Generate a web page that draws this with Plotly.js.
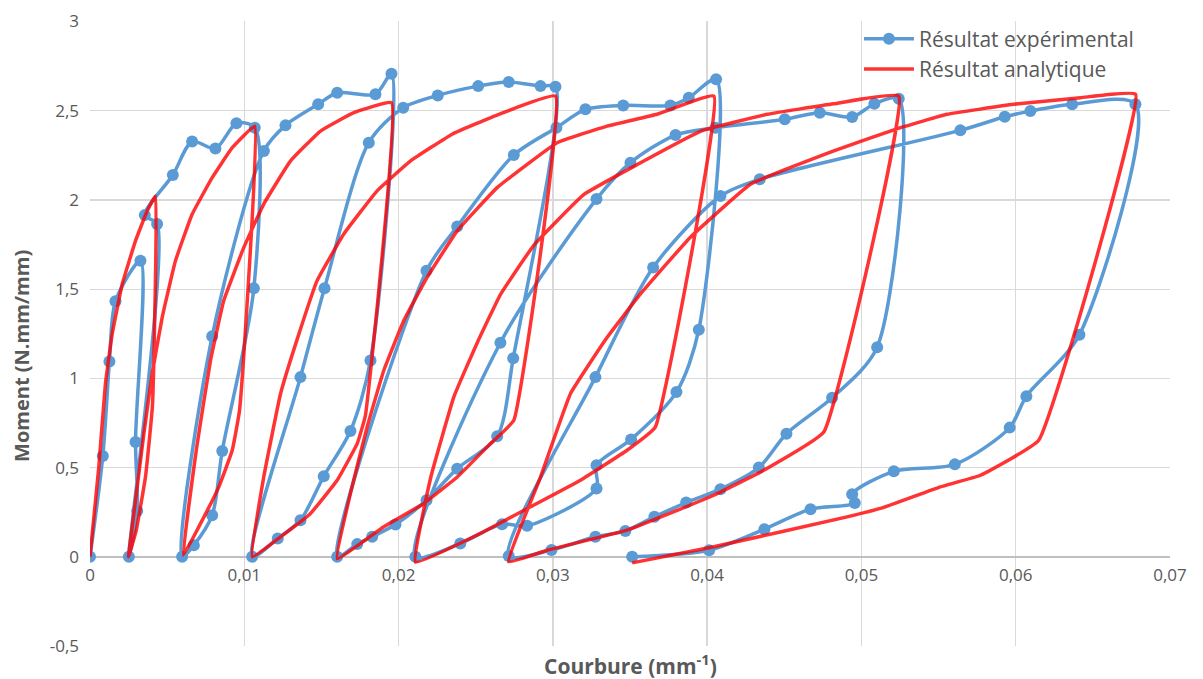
<!DOCTYPE html>
<html>
<head>
<meta charset="utf-8">
<script src="https://cdn.plot.ly/plotly-3.0.1.min.js"></script>
<style>html,body{margin:0;padding:0;background:#fff;}#chart{width:1203px;height:679px;}</style>
</head>
<body>
<div id="chart"></div>
<script>
// Experimental result (curvature mm-1, moment N.mm/mm), in test order
const expX = [
  0, 0.00083, 0.00126, 0.00165, 0.00327, 0.00295, 0.00306, 0.00252,
  0.00435, 0.00355, 0.00537, 0.00662, 0.00813, 0.00949, 0.01068, 0.01062, 0.00857, 0.00792, 0.00673, 0.00597,
  0.00792, 0.01127, 0.01267, 0.01479, 0.01602, 0.0185, 0.01954, 0.01818, 0.01688, 0.01515, 0.01364, 0.01217, 0.01051,
  0.01364, 0.0152, 0.01807, 0.0203, 0.02254, 0.02516, 0.02714, 0.0292, 0.03017, 0.02743, 0.02639, 0.0238, 0.02181, 0.0198, 0.01829, 0.01732, 0.01602,
  0.02181, 0.0238, 0.02747, 0.03023, 0.03211, 0.03456, 0.03762, 0.03881, 0.04058, 0.03946, 0.03801, 0.03507, 0.03283, 0.03283, 0.02833, 0.02671, 0.024, 0.02109,
  0.0266, 0.03283, 0.03503, 0.03795, 0.04054, 0.04503, 0.0473, 0.0494, 0.05084, 0.05242, 0.05102, 0.0481, 0.04514, 0.04335, 0.04086, 0.03864, 0.03658, 0.0347, 0.03276, 0.02991, 0.02714,
  0.03276, 0.0365, 0.04086, 0.04341, 0.05641, 0.05929, 0.06095, 0.06366, 0.06776, 0.06413, 0.06069, 0.05961, 0.05605, 0.0521, 0.0494, 0.04957, 0.0467, 0.04371, 0.04013, 0.03514
];
const expY = [
  0, 0.565, 1.095, 1.432, 1.659, 0.643, 0.257, 0,
  1.865, 1.915, 2.14, 2.327, 2.288, 2.43, 2.405, 1.505, 0.593, 0.233, 0.065, 0,
  1.236, 2.275, 2.418, 2.536, 2.601, 2.592, 2.707, 1.10, 0.705, 0.451, 0.205, 0.103, 0,
  1.007, 1.505, 2.321, 2.517, 2.586, 2.638, 2.661, 2.638, 2.634, 1.113, 0.675, 0.494, 0.317, 0.181, 0.112, 0.071, 0,
  1.603, 1.851, 2.252, 2.405, 2.508, 2.53, 2.53, 2.573, 2.676, 1.273, 0.923, 0.658, 0.513, 0.383, 0.174, 0.183, 0.075, 0,
  1.2, 2.005, 2.209, 2.364, 2.405, 2.452, 2.489, 2.465, 2.539, 2.567, 1.175, 0.891, 0.69, 0.5, 0.379, 0.304, 0.224, 0.145, 0.112, 0.038, 0.004,
  1.007, 1.622, 2.022, 2.116, 2.39, 2.466, 2.498, 2.536, 2.536, 1.245, 0.9, 0.724, 0.518, 0.479, 0.351, 0.302, 0.267, 0.155, 0.037, 0
];
// Analytical result
const anaX = [
  0, 0.00057, 0.001, 0.00144, 0.00209, 0.00295, 0.00371, 0.00425,
  0.00405, 0.0036, 0.003, 0.0025,
  0.00295, 0.00349, 0.00403, 0.00468, 0.00554, 0.00662, 0.00792, 0.00922, 0.01068,
  0.00969, 0.00922, 0.00835, 0.00705, 0.00605,
  0.00695, 0.00781, 0.00867, 0.00997, 0.01126, 0.013, 0.01494, 0.0171, 0.01954,
  0.01785, 0.01732, 0.01602, 0.01429, 0.01235, 0.01051,
  0.01126, 0.01235, 0.01343, 0.01472, 0.01645, 0.01861, 0.0208, 0.0235, 0.0265, 0.03017,
  0.02747, 0.02595, 0.0238, 0.02163, 0.01904, 0.01602,
  0.01688, 0.01796, 0.01904, 0.02034, 0.02185, 0.0238, 0.02639, 0.03028, 0.03352, 0.03676, 0.04044,
  0.03664, 0.03481, 0.03179, 0.02855, 0.0253, 0.02109,
  0.0221, 0.0236, 0.0251, 0.0266, 0.0288, 0.032, 0.0355, 0.0396, 0.0439, 0.0482, 0.05242,
  0.04756, 0.04367, 0.04043, 0.03481, 0.02963, 0.02714,
  0.0292, 0.03114, 0.03352, 0.03568, 0.0389, 0.04281, 0.04821, 0.05253, 0.05555, 0.05987, 0.0642, 0.06777,
  0.06149, 0.05771, 0.05512, 0.05123, 0.04907, 0.04043, 0.03514
];
const anaY = [
  0, 0.503, 0.97, 1.25, 1.529, 1.771, 1.939, 2.023,
  0.85, 0.45, 0.15, 0,
  0.317, 0.69, 1.026, 1.342, 1.659, 1.92, 2.125, 2.293, 2.414,
  0.82, 0.597, 0.392, 0.168, 0.01,
  0.634, 1.1, 1.436, 1.734, 1.977, 2.219, 2.386, 2.489, 2.545,
  0.792, 0.634, 0.429, 0.243, 0.112, 0,
  0.447, 0.914, 1.22, 1.548, 1.809, 2.051, 2.22, 2.37, 2.48, 2.582,
  0.765, 0.634, 0.447, 0.299, 0.168, -0.01,
  0.355, 0.727, 1.044, 1.324, 1.566, 1.827, 2.069, 2.321, 2.414, 2.48, 2.582,
  0.727, 0.597, 0.429, 0.28, 0.131, -0.03,
  0.45, 0.9, 1.2, 1.47, 1.75, 2.03, 2.2, 2.386, 2.48, 2.539, 2.582,
  0.699, 0.485, 0.345, 0.149, 0.037, -0.028,
  0.447, 0.914, 1.23, 1.473, 1.79, 2.088, 2.275, 2.405, 2.48, 2.536, 2.573, 2.592,
  0.653, 0.457, 0.392, 0.271, 0.224, 0.056, -0.034
];
const xTickVals = [0, 0.01, 0.02, 0.03, 0.04, 0.05, 0.06, 0.07];
const xTickText = ['0', '0,01', '0,02', '0,03', '0,04', '0,05', '0,06', '0,07'];
const yTickVals = [-0.5, 0, 0.5, 1, 1.5, 2, 2.5, 3];
const yTickText = ['-0,5', '0', '0,5', '1', '1,5', '2', '2,5', '3'];
const seriesNames = ['Résultat expérimental', 'Résultat analytique'];

const FONT = 'Open Sans, Liberation Sans, Arial, sans-serif';
const GREY = '#595959';

const traces = [
  {
    x: expX, y: expY, name: seriesNames[0], type: 'scatter', mode: 'lines+markers',
    line: {color: '#5B9BD5', width: 3.5, shape: 'spline', smoothing: 0.8},
    marker: {color: '#5B9BD5', size: 12, symbol: 'circle'}
  },
  {
    x: anaX, y: anaY, name: seriesNames[1], type: 'scatter', mode: 'lines',
    line: {color: 'rgba(255,0,0,0.8)', width: 3.5, shape: 'spline', smoothing: 0.3}
  }
];

const layout = {
  width: 1203, height: 679,
  margin: {l: 90, r: 33, t: 21, b: 33},
  paper_bgcolor: '#ffffff', plot_bgcolor: '#ffffff',
  showlegend: true,
  legend: {x: 0.712, y: 1.004, xanchor: 'left', yanchor: 'top', bgcolor: 'rgba(0,0,0,0)',
           itemwidth: 50, font: {family: FONT, size: 21, color: GREY}, tracegroupgap: 0},
  xaxis: {
    range: [0, 0.07], tickvals: xTickVals, ticktext: xTickText,
    showgrid: true, gridcolor: '#d9d9d9', gridwidth: 1.3, zeroline: false,
    showline: false, ticks: '', anchor: 'free', position: 0.5 / 3.5,
    ticklabelstandoff: 6,
    tickfont: {family: FONT, size: 17, color: GREY}
  },
  yaxis: {
    range: [-0.5, 3.003], tickvals: yTickVals, ticktext: yTickText,
    showgrid: true, gridcolor: '#d9d9d9', gridwidth: 1.3,
    zeroline: true, zerolinecolor: '#bfbfbf', zerolinewidth: 1.8,
    showline: false, ticks: '', ticklabelstandoff: 10,
    tickfont: {family: FONT, size: 17, color: GREY}
  },
  annotations: [
    {text: '<b>Courbure (mm<sup>-1</sup>)</b>', xref: 'paper', yref: 'paper', x: 0.5, y: -0.03,
     xanchor: 'center', yanchor: 'middle', showarrow: false, font: {family: FONT, size: 21, color: GREY}},
    {text: '<b>Moment (N.mm/mm)</b>', xref: 'paper', yref: 'paper', x: -0.064, y: 0.464,
     xanchor: 'center', yanchor: 'middle', textangle: -90, showarrow: false, font: {family: FONT, size: 20, color: GREY}}
  ]
};

Plotly.newPlot('chart', traces, layout, {displayModeBar: false, staticPlot: true});
</script>
</body>
</html>
